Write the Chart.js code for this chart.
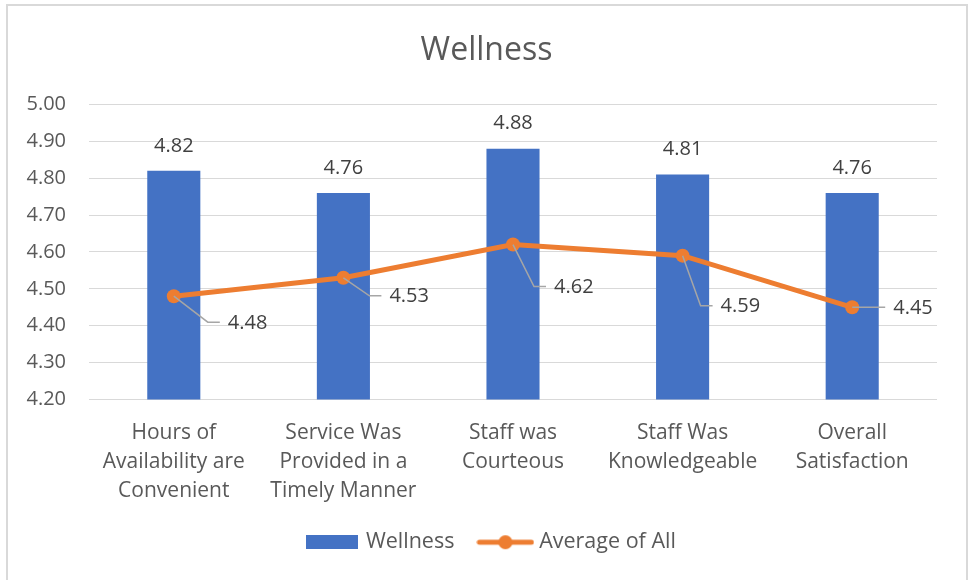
<!DOCTYPE html>
<html lang="en">
<head>
  <meta charset="UTF-8">
  <title>Wellness</title>
  <script src="https://cdn.jsdelivr.net/npm/chart.js"></script>
  <style>
    html, body {
      margin: 0;
      padding: 0;
      background: #fff;
    }

    #wrap {
      position: relative;
      width: 969px;
      height: 580px;
      overflow: hidden;
    }

    #frame {
      position: absolute;
      left: 6px;
      top: 4px;
      width: 962px;
      height: 620px;
      border: 2px solid #d9d9d9;
      box-sizing: border-box;
      pointer-events: none;
    }
  </style>
</head>
<body>
  <div id="wrap">
    <canvas id="myChart" width="969" height="580"></canvas>
    <div id="frame"></div>
  </div>

  <script>
    const categories = [
      ['Hours of', 'Availability are', 'Convenient'],
      ['Service Was', 'Provided in a', 'Timely Manner'],
      ['Staff was', 'Courteous'],
      ['Staff Was', 'Knowledgeable'],
      ['Overall', 'Satisfaction']
    ];
    const wellness = [4.82, 4.76, 4.88, 4.81, 4.76];
    const averageOfAll = [4.48, 4.53, 4.62, 4.59, 4.45];
    const yMin = 4.2;
    const yMax = 5.0;
    const yStep = 0.1;

    const blue = '#4472C4';
    const orange = '#ED7D31';
    const textGrey = '#595959';
    const font = 'Open Sans';

    // where the orange labels sit, relative to their point (Excel moved them by hand)
    const lineLabelOffsets = [[54, 26], [46, 18], [41, 42], [38, 50], [41, 0]];

    // legend icons
    function makeIcon(w, h, draw) {
      const c = document.createElement('canvas');
      c.width = w;
      c.height = h;
      draw(c.getContext('2d'));
      return c;
    }
    const barIcon = makeIcon(52, 14, g => {
      g.fillStyle = blue;
      g.fillRect(0, 0, 52, 14);
    });
    const lineIcon = makeIcon(58, 16, g => {
      g.strokeStyle = orange;
      g.lineWidth = 5;
      g.lineCap = 'round';
      g.beginPath();
      g.moveTo(3, 8);
      g.lineTo(55, 8);
      g.stroke();
      g.fillStyle = orange;
      g.beginPath();
      g.arc(29, 8, 7, 0, Math.PI * 2);
      g.fill();
    });

    const valueLabels = {
      id: 'valueLabels',
      afterLayout(chart) {
        // Excel centres title and legend a bit right of the canvas middle
        chart.legend.left += 24;
        chart.legend.right += 24;
        chart.titleBlock.left += 18;
        chart.titleBlock.right += 18;
      },
      afterDatasetsDraw(chart) {
        const ctx = chart.ctx;
        ctx.save();
        ctx.font = '20px "' + font + '"';
        ctx.fillStyle = '#404040';
        ctx.textBaseline = 'middle';

        ctx.textAlign = 'center';
        chart.getDatasetMeta(0).data.forEach((bar, i) => {
          ctx.fillText(wellness[i].toFixed(2), bar.x, bar.y - 25);
        });

        ctx.textAlign = 'left';
        chart.getDatasetMeta(1).data.forEach((pt, i) => {
          const lx = pt.x + lineLabelOffsets[i][0];
          const ly = pt.y + lineLabelOffsets[i][1];
          ctx.strokeStyle = '#a6a6a6';
          ctx.lineWidth = 1.5;
          ctx.beginPath();
          ctx.moveTo(pt.x, pt.y);
          ctx.lineTo(lx - 20, ly);
          ctx.lineTo(lx - 8, ly);
          ctx.stroke();
          ctx.fillText(averageOfAll[i].toFixed(2), lx, ly + 1);
        });
        ctx.restore();
      }
    };

    const ctx = document.getElementById('myChart').getContext('2d');
    new Chart(ctx, {
      type: 'bar',
      data: {
        labels: categories,
        datasets: [
          {
            label: 'Wellness',
            data: wellness,
            backgroundColor: blue,
            barPercentage: 0.313,
            categoryPercentage: 1,
            order: 1
          },
          {
            type: 'line',
            label: 'Average of All',
            data: averageOfAll,
            borderColor: orange,
            backgroundColor: orange,
            borderWidth: 5,
            pointRadius: 7,
            pointBorderWidth: 0,
            pointBackgroundColor: orange,
            tension: 0,
            order: 0
          }
        ]
      },
      options: {
        responsive: false,
        animation: false,
        layout: {
          padding: { left: 0, right: 32, top: 0, bottom: 17 }
        },
        scales: {
          x: {
            grid: { display: false },
            border: { display: false },
            ticks: {
              color: textGrey,
              font: { family: font, size: 21, lineHeight: 1.38 },
              padding: 11,
              maxRotation: 0,
              autoSkip: false
            },
            afterFit: scale => { scale.height = 104; }
          },
          y: {
            min: yMin,
            max: yMax,
            grid: { color: '#d9d9d9', lineWidth: 1, drawTicks: false },
            border: { display: false },
            ticks: {
              stepSize: yStep,
              color: textGrey,
              padding: 23,
              font: { family: font, size: 20 },
              callback: v => v.toFixed(2)
            },
            afterFit: scale => { scale.width = 89; }
          }
        },
        plugins: {
          title: {
            display: true,
            text: 'Wellness',
            color: textGrey,
            font: { family: font, size: 32, weight: 'normal' },
            padding: { top: 32, bottom: 34 }
          },
          legend: {
            position: 'bottom',
            labels: {
              usePointStyle: true,
              pointStyleWidth: 46,
              boxHeight: 21,
              padding: 28,
              color: textGrey,
              font: { family: font, size: 21.5 },
              generateLabels: () => [
                { text: 'Wellness', pointStyle: barIcon, datasetIndex: 0, fontColor: textGrey, hidden: false, lineWidth: 0 },
                { text: 'Average of All', pointStyle: lineIcon, datasetIndex: 1, fontColor: textGrey, hidden: false, lineWidth: 0 }
              ]
            }
          },
          tooltip: { enabled: false }
        }
      },
      plugins: [valueLabels]
    });
  </script>
</body>
</html>
